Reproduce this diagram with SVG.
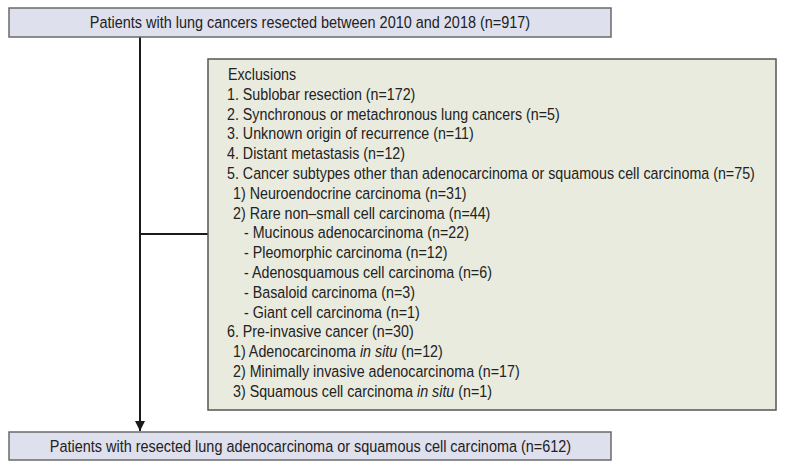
<svg xmlns="http://www.w3.org/2000/svg" width="786" height="470" viewBox="0 0 786 470">
<style>
.pbox{fill:#dfe0ed;stroke:#6a6a6a;stroke-width:1.5}
.xbox{fill:#e9ebdf;stroke:#555;stroke-width:1.5}
text{font-family:"Liberation Sans",Arial,sans-serif;fill:#222;font-size:17px}
.c{text-anchor:middle}
.i{font-style:italic}
.ln{stroke:#1a1a1a;stroke-width:2;fill:none}
</style>
<defs>
<marker id="ah" viewBox="0 0 10 10" refX="10" refY="5" markerWidth="5" markerHeight="5" orient="auto" markerUnits="strokeWidth">
<path d="M0,0 L10,5 L0,10 z" fill="#1a1a1a"/>
</marker>
</defs>
<g id="connectors">
<line class="ln" x1="140" y1="37" x2="140" y2="431" marker-end="url(#ah)"/>
<line class="ln" x1="140" y1="234" x2="208" y2="234"/>
</g>
<g id="top">
<rect class="pbox" x="9" y="8" width="602" height="29"/>
<g transform="scale(0.85,1)">
<text class="c" x="364.7" y="28.5">Patients with lung cancers resected between 2010 and 2018 (n=917)</text>
</g>
</g>
<g id="exclusions">
<rect class="xbox" x="208" y="59" width="568" height="351"/>
<g transform="scale(0.84,1)">
<text x="271.4" y="80">Exclusions</text>
<text x="270.2" y="99.8">1. Sublobar resection (n=172)</text>
<text x="270.2" y="119.6">2. Synchronous or metachronous lung cancers (n=5)</text>
<text x="270.2" y="139.4">3. Unknown origin of recurrence (n=11)</text>
<text x="270.2" y="159.2">4. Distant metastasis (n=12)</text>
<text x="270.2" y="179">5. Cancer subtypes other than adenocarcinoma or squamous cell carcinoma (n=75)</text>
<text x="277.4" y="198.8">1) Neuroendocrine carcinoma (n=31)</text>
<text x="277.4" y="218.6">2) Rare non–small cell carcinoma (n=44)</text>
<text x="290.5" y="238.4">- Mucinous adenocarcinoma (n=22)</text>
<text x="290.5" y="258.2">- Pleomorphic carcinoma (n=12)</text>
<text x="290.5" y="278">- Adenosquamous cell carcinoma (n=6)</text>
<text x="290.5" y="297.8">- Basaloid carcinoma (n=3)</text>
<text x="290.5" y="317.6">- Giant cell carcinoma (n=1)</text>
<text x="270.2" y="337.4">6. Pre-invasive cancer (n=30)</text>
<text x="277.4" y="357.2">1) Adenocarcinoma <tspan class="i">in situ</tspan> (n=12)</text>
<text x="277.4" y="377">2) Minimally invasive adenocarcinoma (n=17)</text>
<text x="277.4" y="396.8">3) Squamous cell carcinoma <tspan class="i">in situ</tspan> (n=1)</text>
</g>
</g>
<g id="bottom">
<rect class="pbox" x="9" y="432" width="602" height="28"/>
<g transform="scale(0.85,1)">
<text class="c" x="365.3" y="452">Patients with resected lung adenocarcinoma or squamous cell carcinoma (n=612)</text>
</g>
</g>
</svg>
